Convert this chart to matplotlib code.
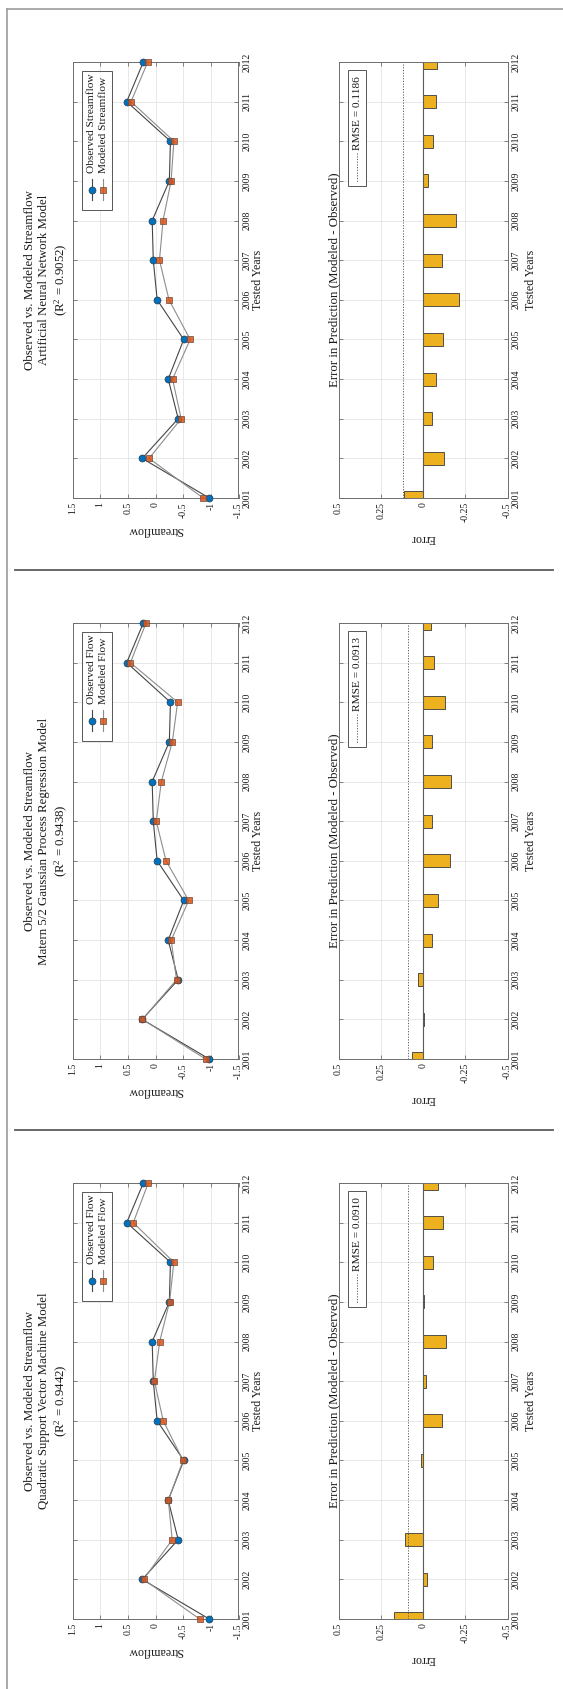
import numpy as np
import matplotlib
matplotlib.use("Agg")
import matplotlib.pyplot as plt
from matplotlib.patches import Rectangle

plt.rcParams["font.family"] = ["Liberation Serif", "DejaVu Serif"]
plt.rcParams["mathtext.fontset"] = "custom"
plt.rcParams["mathtext.rm"] = "Liberation Serif"
plt.rcParams["mathtext.it"] = "Liberation Serif:italic"

# ---- data -------------------------------------------------------------
years = list(range(2001, 2013))
observed = [-0.970, 0.240, -0.410, -0.230, -0.510, -0.030, 0.040, 0.060, -0.250, -0.270, 0.520, 0.220]
modeled_ann = [-0.860, 0.116, -0.464, -0.308, -0.626, -0.244, -0.072, -0.136, -0.282, -0.332, 0.442, 0.140]
modeled_gpr = [-0.905, 0.237, -0.380, -0.284, -0.600, -0.190, -0.014, -0.105, -0.304, -0.400, 0.454, 0.170]
modeled_svm = [-0.796, 0.216, -0.302, -0.232, -0.498, -0.140, 0.020, -0.076, -0.254, -0.332, 0.402, 0.130]

model_names = ["Artificial Neural Network Model",
               "Matern 5/2 Gaussian Process Regression Model",
               "Quadratic Support Vector Machine Model"]
r2_values = [0.9052, 0.9438, 0.9442]
rmse_values = [0.1186, 0.0913, 0.0910]
legend_labels = [("Observed Streamflow", "Modeled Streamflow"),
                 ("Observed Flow", "Modeled Flow"),
                 ("Observed Flow", "Modeled Flow")]

flow_ticks = [1.5, 1, 0.5, 0, -0.5, -1, -1.5]
flow_ticklabels = ["1.5", "1", "0.5", "0", "-0.5", "-1", "-1.5"]
err_ticks = [0.5, 0.25, 0, -0.25, -0.5]
err_ticklabels = ["0.5", "0.25", "0", "-0.25", "-0.5"]

modeled_sets = [modeled_ann, modeled_gpr, modeled_svm]

# ---- styling ----------------------------------------------------------
W, H, DPI = 563, 1689, 100
SPINE = "#6e6e6e"
GRID = "#e4e4e4"
OBS_FACE = "#0072BD"
MOD_FACE = (0.851, 0.325, 0.098, 0.85)
OBS_LINE = "#454545"
MOD_LINE = "#8d8d8d"
BAR_FACE = "#EDB120"
TXT = "#1a1a1a"

panel_tops = [62, 623, 1183]
AX_H = 436
FLOW_X = (72.5, 238.5)
ERR_X = (338.5, 507.5)

fig = plt.figure(figsize=(W / DPI, H / DPI), dpi=DPI, facecolor="white")


def frac(x0, y0, x1, y1):
    return [x0 / W, 1 - y1 / H, (x1 - x0) / W, (y1 - y0) / H]


def style_axes(ax, ticks, ticklabels):
    ax.set_ylim(years[0], years[-1])
    ax.set_yticks(years)
    ax.set_yticklabels([str(y) for y in years])
    ax.set_xticks(ticks)
    ax.set_xticklabels(ticklabels)
    ax.tick_params(axis="both", direction="in", length=3, width=0.6, color=SPINE,
                   labelsize=7, labelcolor=TXT, pad=3,
                   top=True, bottom=True, left=True, right=True,
                   labelleft=False, labelright=True)
    ax.tick_params(axis="x", labelrotation=90)
    ax.tick_params(axis="y", labelrotation=90)
    for lab in ax.get_yticklabels():
        lab.set_va("center")
        lab.set_ha("left")
    ax.grid(True, color=GRID, lw=0.6)
    ax.set_axisbelow(True)
    for s in ax.spines.values():
        s.set_color(SPINE)
        s.set_linewidth(0.7)


flow_axes, err_axes = [], []
for i, t in enumerate(panel_tops):
    modeled = modeled_sets[i]
    errors = np.array(modeled) - np.array(observed)

    # observed vs modeled streamflow
    ax = fig.add_axes(frac(FLOW_X[0], t, FLOW_X[1], t + AX_H))
    ax.plot(observed, years, color=OBS_LINE, lw=0.8, marker="o", ms=5,
            mfc=OBS_FACE, mec="#263a4d", mew=0.5, clip_on=False, zorder=3)
    ax.plot(modeled, years, color=MOD_LINE, lw=0.8, marker="s", ms=4.3,
            mfc=MOD_FACE, mec="#6b4a3a", mew=0.5, clip_on=False, zorder=4)
    ax.set_xlim(1.5, -1.5)
    style_axes(ax, flow_ticks, flow_ticklabels)
    flow_axes.append(ax)

    # prediction error bars
    ax2 = fig.add_axes(frac(ERR_X[0], t, ERR_X[1], t + AX_H))
    ax2.barh(years, errors, height=0.33, color=BAR_FACE, edgecolor="#3a3a3a",
             linewidth=0.6, zorder=2)
    ax2.axvline(0, color="#5a5a5a", lw=0.8, zorder=2.5)
    ax2.axvline(rmse_values[i], color="#5a5a5a", lw=0.7, ls=(0, (1.2, 1.6)), zorder=2.5)
    ax2.set_xlim(0.5, -0.5)
    style_axes(ax2, err_ticks, err_ticklabels)
    err_axes.append(ax2)

# overlay in pixel units for frames, titles, labels and legends
ov = fig.add_axes([0, 0, 1, 1], zorder=10)
ov.set_xlim(0, W)
ov.set_ylim(H, 0)
ov.axis("off")

ov.plot([7, W], [9, 9], color="#9c9c9c", lw=1.2)
ov.plot([7, 7], [9, H], color="#9c9c9c", lw=1.2)
for ysep in (570, 1130):
    ov.plot([15, 553], [ysep, ysep], color="#5c5c5c", lw=1.3)

renderer = fig.canvas.get_renderer()

for i, t in enumerate(panel_tops):
    cy = t + AX_H / 2
    ov.text(47, cy, "Observed vs. Modeled Streamflow\n%s\n(R$^2$ = %.4f)" % (model_names[i], r2_values[i]),
            rotation=90, ha="center", va="center", multialignment="center",
            fontsize=9.3, color=TXT)
    ov.text(334, cy, "Error in Prediction (Modeled - Observed)", rotation=90,
            ha="center", va="center", fontsize=9.3, color=TXT)
    ov.text(258, cy, "Tested Years", rotation=90, ha="center", va="center", fontsize=8.6, color=TXT)
    ov.text(531, cy, "Tested Years", rotation=90, ha="center", va="center", fontsize=8.6, color=TXT)
    ov.text(155.5, t + 468, "Streamflow", rotation=180, ha="center", va="center", fontsize=8.6, color=TXT)
    ov.text(423, t + 476, "Error", rotation=180, ha="center", va="center", fontsize=8.6, color=TXT)

    # streamflow legend
    labs = legend_labels[i]
    xs = (92, 103)
    txts = [ov.text(x, 0, lab, rotation=90, ha="center", va="bottom", fontsize=8.2, color=TXT)
            for x, lab in zip(xs, labs)]
    lmax = max(tt.get_window_extent(renderer).height for tt in txts)
    start = t + 11 + lmax
    for tt in txts:
        tt.set_y(start)
    ys = start + 17
    ov.plot([xs[0], xs[0]], [start + 6, start + 27], color=OBS_LINE, lw=0.8)
    ov.plot([xs[0]], [ys], marker="o", ms=5, mfc=OBS_FACE, mec="#263a4d", mew=0.5)
    ov.plot([xs[1], xs[1]], [start + 6, start + 27], color=MOD_LINE, lw=0.8)
    ov.plot([xs[1]], [ys], marker="s", ms=4.3, mfc=MOD_FACE, mec="#6b4a3a", mew=0.5)
    ov.add_patch(Rectangle((82, t + 9), 30, start + 37 - (t + 9), fill=True,
                           facecolor="white", edgecolor="#3c3c3c", lw=0.6, zorder=0.5))

    # error legend
    et = ov.text(357, 0, "RMSE = %.4f" % rmse_values[i], rotation=90, ha="center",
                 va="bottom", fontsize=8.2, color=TXT)
    el = et.get_window_extent(renderer).height
    estart = t + 14 + el
    et.set_y(estart)
    ov.plot([357, 357], [estart + 3, estart + 33], color="#5a5a5a", lw=0.7, ls=(0, (1.2, 1.6)))
    ov.add_patch(Rectangle((348, t + 8), 18, estart + 36 - (t + 8), fill=True,
                           facecolor="white", edgecolor="#3c3c3c", lw=0.6, zorder=0.5))

fig.savefig("out.png", dpi=DPI, facecolor="white")
